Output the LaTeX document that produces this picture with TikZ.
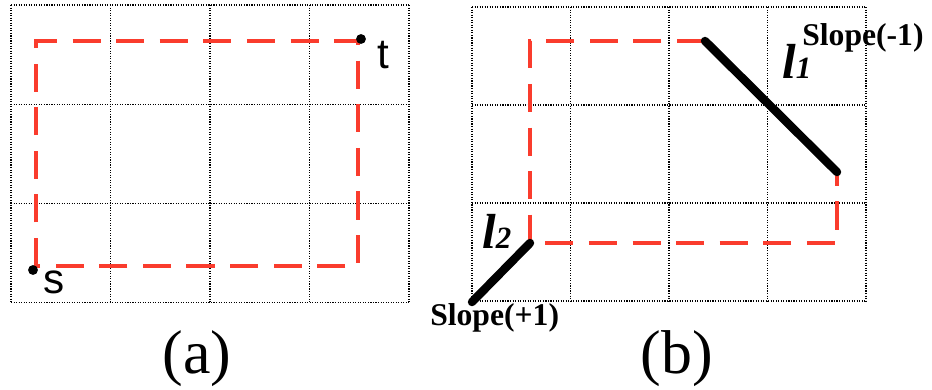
\documentclass[tikz,border=0pt]{standalone}
\usepackage{fontspec}
\setmainfont{Liberation Serif}
\newfontfamily\arialfont{Liberation Sans}
\usetikzlibrary{positioning}
\definecolor{pathred}{RGB}{250,60,45}

\begin{document}
\begin{tikzpicture}[x=0.025cm, y=-0.025cm,
  gridline/.style={densely dotted, line width=0.8pt, black},
  route/.style={pathred, line width=2.6pt, dash pattern=on 20pt off 11pt},
  seg/.style={line width=6pt, line cap=round, black},
  pin/.style={circle, fill=black, inner sep=0pt, minimum size=7pt},
  lab/.style={inner sep=0pt, anchor=base west},
  caption/.style={inner sep=0pt, anchor=base, font=\fontsize{44}{44}\selectfont},
  vert/.style={inner sep=0pt, anchor=base, font=\arialfont\fontsize{30}{30}\selectfont},
  slope/.style={lab, font=\bfseries\fontsize{22.5}{22.5}\selectfont},
  seglab/.style={lab, font=\bfseries\itshape\fontsize{35}{35}\selectfont}]
\useasboundingbox (0,0) rectangle (932,389);

% grid (a)
\foreach \i in {0,...,4} \draw[gridline] ({11+\i*99.5},5) -- ({11+\i*99.5},303);
\foreach \j in {0,...,3} \draw[gridline] (11,{5+\j*99.3}) -- (409,{5+\j*99.3});
% grid (b)
\foreach \i in {0,...,4} \draw[gridline] ({472+\i*98.5},7) -- ({472+\i*98.5},301);
\foreach \j in {0,...,3} \draw[gridline] (472,{7+\j*98}) -- (866,{7+\j*98});

% (a): route from s to t
\coordinate (s) at (36,266);
\coordinate (t) at (358,41);
\draw[route] (s) -- (s |- t) -- (t) -- (t |- s) -- cycle;
\node[pin] (sdot) at (33,270) {};
\node[pin] (tdot) at (361,39) {};
\node[vert] (slab) at (54,293) {s};
\node[vert] (tlab) at (383,68) {t};

% (b): route around the two segments
\coordinate (tl) at (530,41);
\coordinate (bl) at (530,243);
\coordinate (br) at (837,243);
\coordinate (l1a) at (705,41);
\coordinate (l1b) at (837,172);
\coordinate (l2b) at (472,302);
\draw[route] (l1a) -- (tl) -- (bl) -- (br) -- (l1b);
\draw[seg] (l1a) -- (l1b);
\draw[seg] (bl) -- (l2b);
\node[seglab] (l1lab) at (782,78) {l{\fontsize{22}{22}\selectfont 1}};
\node[seglab] (l2lab) at (482,248) {l{\fontsize{22}{22}\selectfont 2}};
\node[slope] (s1lab) at (802,45) {Slope(-1)};
\node[slope] (s2lab) at (430,325) {Slope(+1)};

\node[caption] (capa) at (197,373) {(a)};
\node[caption] (capb) at (677,373) {(b)};
\end{tikzpicture}
\end{document}
